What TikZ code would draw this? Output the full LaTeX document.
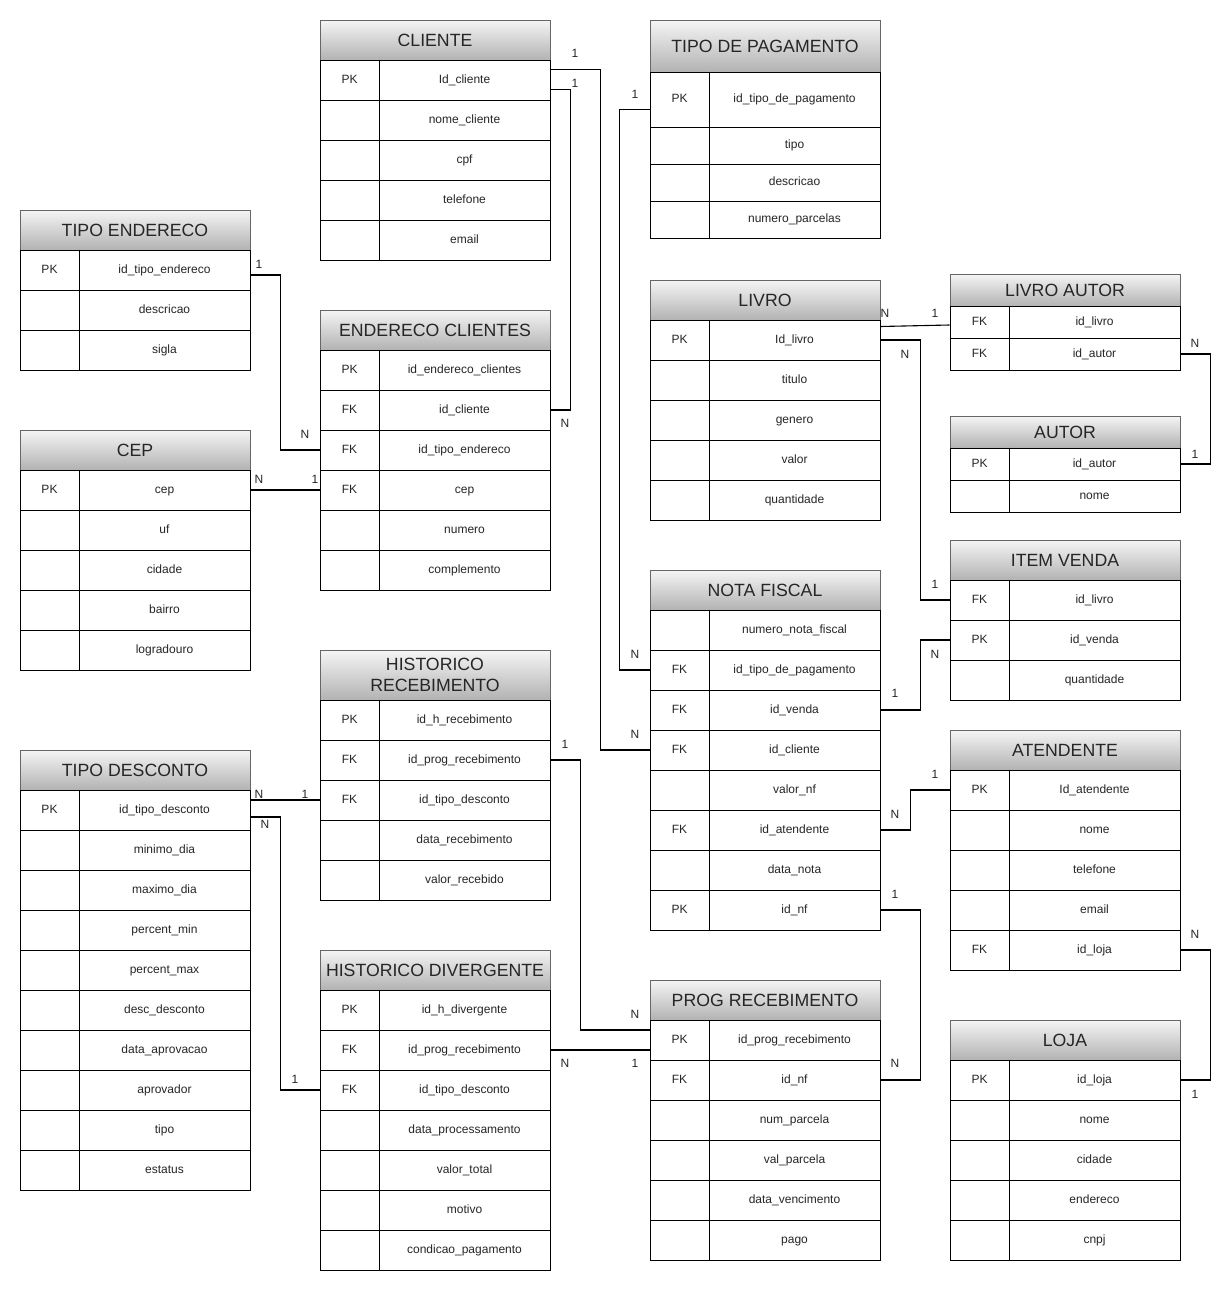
\documentclass[tikz,border=0pt]{standalone}
\usepackage{fontspec}
\setmainfont{Liberation Sans}
\usetikzlibrary{calc}
\tikzset{
  hdr/.style={draw=black!60, line width=1pt, top color=black!4, bottom color=black!30,
    minimum width=230pt, inner sep=0pt, align=center, text=black!85,
    font=\fontsize{17.7}{21}\selectfont},
  rowbox/.style={draw=black, line width=1pt, fill=white, minimum width=230pt, inner sep=0pt},
  cellline/.style={draw=black, line width=1pt},
  celltxt/.style={inner sep=0pt, text=black!85, text height=8.7pt, text depth=2.3pt,
    font=\fontsize{12}{14}\selectfont},
  lbl/.style={inner sep=0pt, text=black!85, text height=8.7pt, text depth=2.3pt,
    font=\fontsize{12}{14}\selectfont},
  conn/.style={draw=black, line width=1.1pt},
}
\newcommand\erbox[8]{%
  \node[hdr, minimum height=#4pt] (#1) at ({#2+115},{#3+#4/2}) {#7};
  \foreach [count=\i] \k/\f in {#8} {%
    \pgfmathsetmacro\rh{\i==1 ? #6 : #5}%
    \pgfmathsetmacro\rt{\i==1 ? #3+#4 : #3+#4+#6+(\i-2)*#5}%
    \node[rowbox, minimum height=\rh pt] (#1-\i) at ({#2+115},{\rt+\rh/2}) {};
    \draw[cellline] ([xshift=60pt]#1-\i.north west) -- ([xshift=60pt]#1-\i.south west);
    \node[celltxt] at ([xshift=30pt]#1-\i.west) {\k};
    \node[celltxt] at ([xshift=145pt]#1-\i.west) {\f};
  }%
}
\begin{document}
\begin{tikzpicture}[x=1pt, y=-1pt]
\useasboundingbox (0,0) rectangle (1232,1291);
\fill[white] (0,0) rectangle (1232,1291);

\erbox{cli}{320}{20}{40}{40}{40}{CLIENTE}{PK/Id\_cliente, /nome\_cliente, /cpf, /telefone, /email}
\erbox{tp}{650}{20}{52}{37}{55}{TIPO DE PAGAMENTO}{PK/id\_tipo\_de\_pagamento, /tipo, /descricao, /numero\_parcelas}
\erbox{te}{20}{210}{40}{40}{40}{TIPO ENDERECO}{PK/id\_tipo\_endereco, /descricao, /sigla}
\erbox{ec}{320}{310}{40}{40}{40}{ENDERECO CLIENTES}{PK/id\_endereco\_clientes, FK/id\_cliente, FK/id\_tipo\_endereco, FK/cep, /numero, /complemento}
\erbox{cep}{20}{430}{40}{40}{40}{CEP}{PK/cep, /uf, /cidade, /bairro, /logradouro}
\erbox{liv}{650}{280}{40}{40}{40}{LIVRO}{PK/Id\_livro, /titulo, /genero, /valor, /quantidade}
\erbox{la}{950}{274}{32}{32}{32}{LIVRO AUTOR}{FK/id\_livro, FK/id\_autor}
\erbox{au}{950}{416}{32}{32}{32}{AUTOR}{PK/id\_autor, /nome}
\erbox{iv}{950}{540}{40}{40}{40}{ITEM VENDA}{FK/id\_livro, PK/id\_venda, /quantidade}
\erbox{nf}{650}{570}{40}{40}{40}{NOTA FISCAL}{/numero\_nota\_fiscal, FK/id\_tipo\_de\_pagamento, FK/id\_venda, FK/id\_cliente, /valor\_nf, FK/id\_atendente, /data\_nota, PK/id\_nf}
\erbox{at}{950}{730}{40}{40}{40}{ATENDENTE}{PK/Id\_atendente, /nome, /telefone, /email, FK/id\_loja}
\erbox{hr}{320}{650}{50}{40}{40}{HISTORICO\\RECEBIMENTO}{PK/id\_h\_recebimento, FK/id\_prog\_recebimento, FK/id\_tipo\_desconto, /data\_recebimento, /valor\_recebido}
\erbox{td}{20}{750}{40}{40}{40}{TIPO DESCONTO}{PK/id\_tipo\_desconto, /minimo\_dia, /maximo\_dia, /percent\_min, /percent\_max, /desc\_desconto, /data\_aprovacao, /aprovador, /tipo, /estatus}
\erbox{hd}{320}{950}{40}{40}{40}{HISTORICO DIVERGENTE}{PK/id\_h\_divergente, FK/id\_prog\_recebimento, FK/id\_tipo\_desconto, /data\_processamento, /valor\_total, /motivo, /condicao\_pagamento}
\erbox{pr}{650}{980}{40}{40}{40}{PROG RECEBIMENTO}{PK/id\_prog\_recebimento, FK/id\_nf, /num\_parcela, /val\_parcela, /data\_vencimento, /pago}
\erbox{lo}{950}{1020}{40}{40}{40}{LOJA}{PK/id\_loja, /nome, /cidade, /endereco, /cnpj}

% connectors
\draw[conn] ($(cli-1.north east)+(0,10)$) -- ++(50,0) |- (nf-4.west);
\draw[conn] ($(cli-1.north east)+(0,30)$) -- ++(20,0) |- (ec-2.east);
\draw[conn] ($(tp-1.west)+(0,10)$) -- ++(-30,0) |- (nf-2.west);
\draw[conn] ($(te-1.east)+(0,5)$) -- ++(30,0) |- (ec-3.west);
\draw[conn] (cep-1.east) -- (ec-4.west);
\draw[conn] ($(liv-1.north east)+(0,7)$) -- ($(la-1.west)+(0,3)$);
\draw[conn] (liv-1.east) -- ++(40,0) |- (iv-1.west);
\draw[conn] (la-2.east) -- ++(30,0) |- (au-1.east);
\draw[conn] (nf-3.east) -- ++(40,0) |- (iv-2.west);
\draw[conn] (nf-6.east) -- ++(30,0) |- (at-1.west);
\draw[conn] (nf-8.east) -- ++(40,0) |- (pr-2.east);
\draw[conn] (at-5.east) -- ++(30,0) |- (lo-1.east);
\draw[conn] ($(td-1.east)+(0,-10)$) -- (hr-3.west);
\draw[conn] ($(td-1.east)+(0,7)$) -- ++(30,0) |- (hd-3.west);
\draw[conn] (hr-2.east) -- ++(30,0) |- ($(pr-1.west)+(0,-10)$);
\draw[conn] (hd-2.east) -- ($(pr-1.west)+(0,10)$);

% cardinality labels
\node[lbl] (c1a) at (575,54) {1};
\node[lbl] (c1b) at (635,735) {N};
\node[lbl] (c2a) at (575,84) {1};
\node[lbl] (c2b) at (565,424) {N};
\node[lbl] (c3a) at (635,95) {1};
\node[lbl] (c3b) at (635,655) {N};
\node[lbl] (c4a) at (259,265) {1};
\node[lbl] (c4b) at (305,435) {N};
\node[lbl] (c5a) at (259,480) {N};
\node[lbl] (c5b) at (315,480) {1};
\node[lbl] (c6a) at (885,314) {N};
\node[lbl] (c6b) at (935,314) {1};
\node[lbl] (c7a) at (905,355) {N};
\node[lbl] (c7b) at (935,585) {1};
\node[lbl] (c8a) at (1195,344) {N};
\node[lbl] (c8b) at (1195,455) {1};
\node[lbl] (c9a) at (895,694) {1};
\node[lbl] (c9b) at (935,655) {N};
\node[lbl] (c10a) at (895,815) {N};
\node[lbl] (c10b) at (935,775) {1};
\node[lbl] (c11a) at (895,895) {1};
\node[lbl] (c11b) at (895,1064) {N};
\node[lbl] (c12a) at (1195,935) {N};
\node[lbl] (c12b) at (1195,1095) {1};
\node[lbl] (c13a) at (259,795) {N};
\node[lbl] (c13b) at (305,795) {1};
\node[lbl] (c14a) at (265,825) {N};
\node[lbl] (c14b) at (295,1080) {1};
\node[lbl] (c15a) at (565,745) {1};
\node[lbl] (c15b) at (635,1015) {N};
\node[lbl] (c16a) at (565,1064) {N};
\node[lbl] (c16b) at (635,1064) {1};
\end{tikzpicture}
\end{document}
